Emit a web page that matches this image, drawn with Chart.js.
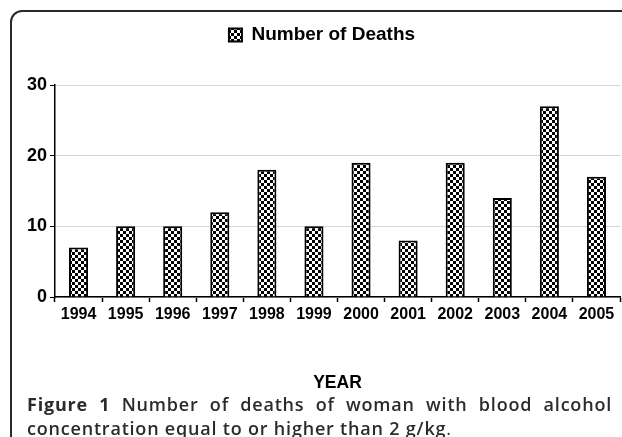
<!DOCTYPE html>
<html>
<head>
<meta charset="utf-8">
<script src="https://cdn.jsdelivr.net/npm/chart.js@4/dist/chart.umd.min.js"></script>
<style>
  html, body { margin: 0; padding: 0; background: #fff; }
  body { width: 622px; height: 437px; position: relative; overflow: hidden; }
  #frame { position: absolute; left: 10px; top: 10px; width: 700px; height: 500px;
           border: 2px solid #2a2a2a; border-top-left-radius: 12px; box-sizing: border-box; }
  #chart { position: absolute; left: 0; top: 0; }
  #caption { position: absolute; left: 27px; top: 392px; width: 585px;
             font-family: 'Open Sans', 'Noto Sans', sans-serif; font-size: 18px; line-height: 24px;
             letter-spacing: 0.8px; font-weight: 600; color: #2b2b2b; white-space: nowrap; }
  #caption .l1 { text-align: justify; text-align-last: justify; }
  #caption .l2 { text-align: left; }
  #caption b { font-weight: 700; }
  #caption .dot { font-weight: 400; }
</style>
</head>
<body>
<div id="frame"></div>
<canvas id="chart" width="622" height="437"></canvas>
<div id="caption"><div class="l1"><b>Figure 1</b> Number of deaths of woman with blood alcohol</div><div class="l2">concentration equal to or higher than 2 g/kg<span class="dot">.</span></div></div>
<script>
const years = ['1994', '1995', '1996', '1997', '1998', '1999', '2000', '2001', '2002', '2003', '2004', '2005'];
const deaths = [7, 10, 10, 12, 18, 10, 19, 8, 19, 14, 27, 17];
const seriesLabel = 'Number of Deaths';
const axisTitleX = 'YEAR';
const yMin = 0;
const yMax = 30;
const yStep = 10;

const FONT = "'Liberation Sans', Arial, sans-serif";

function makeChecker() {
  const s = 3;
  const c = document.createElement('canvas');
  c.width = s * 2; c.height = s * 2;
  const g = c.getContext('2d');
  g.fillStyle = '#fff'; g.fillRect(0, 0, s * 2, s * 2);
  g.fillStyle = '#000';
  g.fillRect(0, 0, s, s);
  g.fillRect(s, s, s, s);
  return document.getElementById('chart').getContext('2d').createPattern(c, 'repeat');
}
const checker = makeChecker();

const legendTweak = {
  id: 'legendTweak',
  afterInit(chart) {
    const lg = chart.legend;
    const orig = lg.fit;
    lg.fit = function () { orig.call(this); this.height += 30.5; };
  },
  afterLayout(chart) {
    chart.legend.left += 12;
    chart.legend.right += 12;
  }
};

new Chart(document.getElementById('chart'), {
  type: 'bar',
  data: {
    labels: years,
    datasets: [{
      label: seriesLabel,
      data: deaths,
      backgroundColor: checker,
      borderColor: '#000',
      borderWidth: 2,
      barPercentage: 0.405,
      categoryPercentage: 1.0
    }]
  },
  options: {
    responsive: false,
    animation: false,
    devicePixelRatio: 1,
    layout: { padding: { top: 15.5, left: 0, right: 2, bottom: 43 } },
    plugins: {
      legend: {
        display: true,
        position: 'top',
        labels: {
          boxWidth: 13, boxHeight: 13, padding: 10, color: '#000',
          font: { family: FONT, size: 19, weight: 'bold' }
        }
      },
      tooltip: { enabled: false }
    },
    scales: {
      x: {
        offset: true,
        grid: { offset: true, drawOnChartArea: false, tickColor: '#000', tickLength: 5, tickWidth: 1.5 },
        border: { color: '#000', width: 1.5 },
        ticks: { color: '#000', padding: 3, font: { family: FONT, size: 16, weight: 'bold' } },
        title: { display: true, text: axisTitleX, color: '#000', padding: { top: 0, bottom: 0 },
                 font: { family: FONT, size: 17.5, weight: 'bold' } },
        afterFit(s) { s.height = 97; }
      },
      y: {
        min: yMin, max: yMax,
        ticks: { stepSize: yStep, color: '#000', padding: 3, font: { family: FONT, size: 18, weight: 'bold' } },
        grid: { color: '#d4d4d4', tickColor: '#000', tickLength: 5, lineWidth: 1 },
        border: { color: '#000', width: 1.5 },
        afterFit(s) { s.width = 55; }
      }
    }
  },
  plugins: [legendTweak]
});
</script>
</body>
</html>
